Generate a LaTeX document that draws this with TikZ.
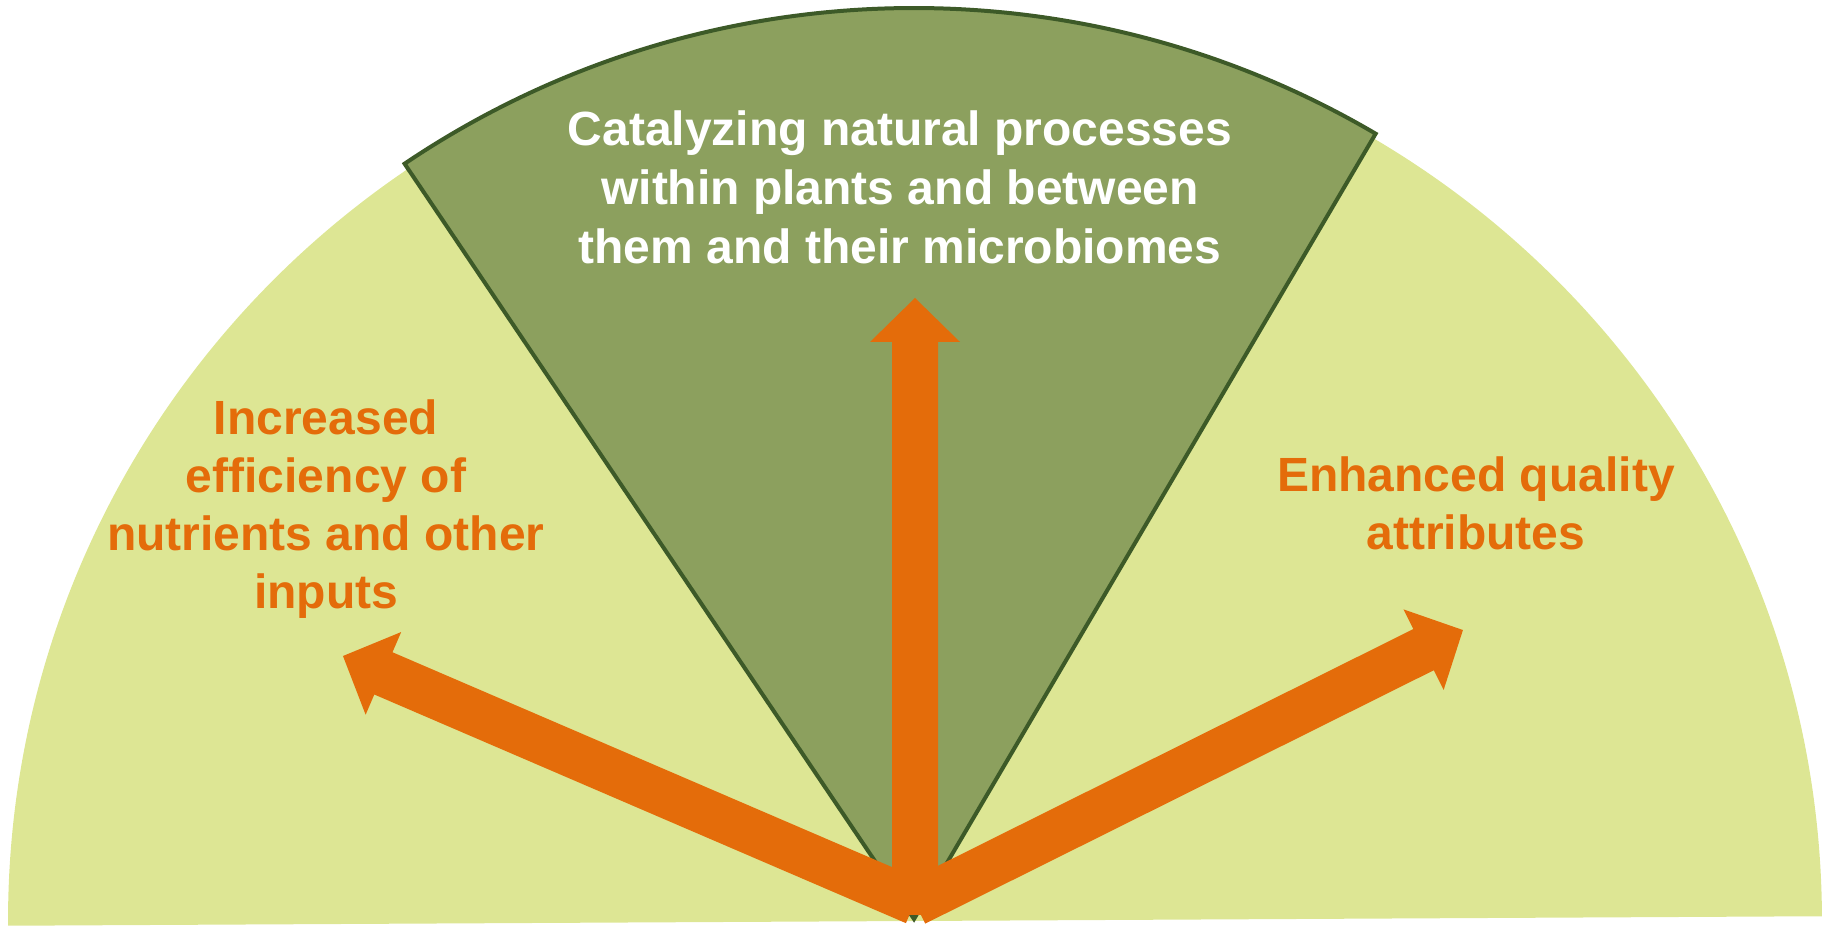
\documentclass[tikz,border=0pt]{standalone}
\usepackage{fontspec}
\setmainfont{Liberation Sans}
\definecolor{bgfill}{HTML}{DDE694}
\definecolor{wedgefill}{HTML}{8CA05E}
\definecolor{wedgeline}{HTML}{3D5A28}
\definecolor{arroworange}{HTML}{E46C0A}
\newcommand\blockarrow[3]{%
  \fill[arrowfill, shift={(#1)}, rotate=#2]
    (0,-23) -- ({#3-44},-23) -- ({#3-44},-45) -- (#3,0) -- ({#3-44},45) -- ({#3-44},23) -- (0,23) -- cycle;}
\begin{document}
\begin{tikzpicture}[x=0.5pt,y=0.5pt,
  arrowfill/.style={fill=arroworange},
  wedge/.style={fill=wedgefill, draw=wedgeline, line width=2pt, line join=miter},
  wtext/.style={text=white, font=\bfseries\fontsize{24}{29.5}\selectfont, align=center, inner sep=0pt},
  otext/.style={text=arroworange, font=\bfseries\fontsize{24}{29}\selectfont, align=center, inner sep=0pt}]
\useasboundingbox (0,0) rectangle (1827,926);
% background half disc
\fill[bgfill, rotate around={0.3:(915,5)}] (1822,5) arc[start angle=0, end angle=180, radius=907] -- cycle;
% central wedge
\filldraw[wedge] (914,7) -- ++(59.55:911) arc[start angle=59.55, end angle=124, radius=911] -- cycle;
% arrow origins
\coordinate (oL) at (915,24);
\coordinate (oR) at (915,23);
\coordinate (oV) at (915,11);
\blockarrow{oL}{156.73}{622.7}
\blockarrow{oR}{26.48}{612.2}
\blockarrow{oV}{90}{617}
% texts
\node[wtext] (catal) at (900,739) {Catalyzing natural processes\\within plants and between\\them and their microbiomes};
\node[otext] (incr) at (326,417) {Increased\\efficiency of\\nutrients and other\\inputs};
\node[otext] (enh) at (1476,423) {Enhanced quality\\attributes};
\end{tikzpicture}
\end{document}
